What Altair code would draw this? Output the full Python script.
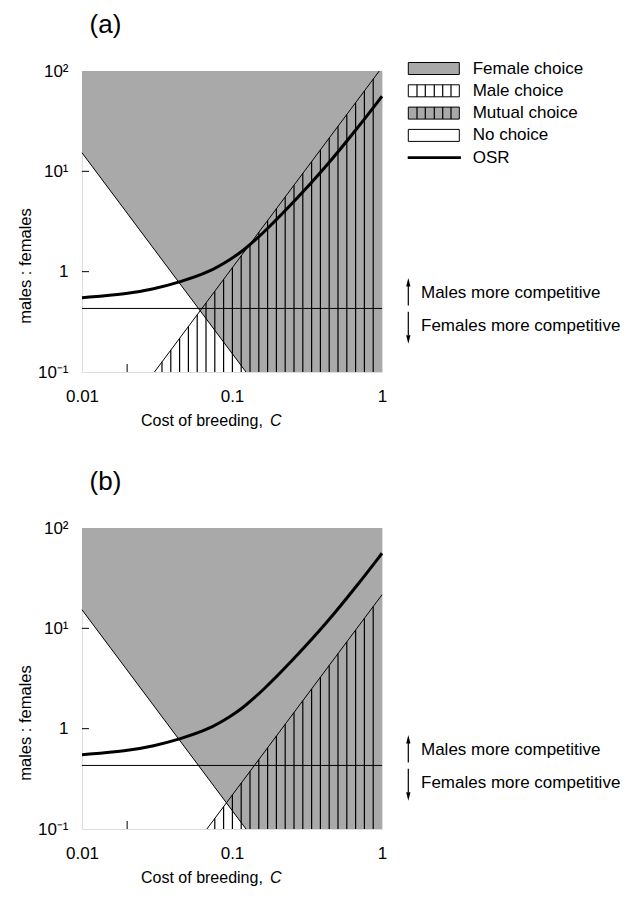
import altair as alt
import numpy as np
import pandas as pd

FONT = "Liberation Sans"
GRAY = "#a9a9a9"

# ---------------- values ----------------
osr_cost = [0.01, 0.02, 0.03, 0.045, 0.07, 0.10, 0.115, 0.16, 0.25, 0.42, 0.70, 1.00]
osr_ratio = [0.55, 0.60, 0.67, 0.79, 0.98, 1.36, 1.56, 2.38, 4.7, 10.9, 28.0, 56.0]

# boundary below which females do not choose (same in both panels)
female_bound_cost = [0.01, 0.124]
female_bound_ratio = [15.3, 0.1]

# boundary right of which males choose
male_bound_cost_a = [0.0304, 0.959]
male_bound_ratio_a = [0.1, 100.0]
male_bound_cost_b = [0.068, 1.0]
male_bound_ratio_b = [0.1, 21.6]

competition_threshold = 0.43

x_tick_values = [0.01, 0.1, 1]
x_tick_labels = ["0.01", "0.1", "1"]
y_tick_values = [0.1, 1, 10, 100]
y_tick_labels = ["10\u207b\u00b9", "1", "10\u00b9", "10\u00b2"]
inner_y_ticks = [1, 10]
inner_x_ticks = [0.02]

legend_labels = ["Female choice", "Male choice", "Mutual choice", "No choice", "OSR"]

# ---------------- layout ----------------
W, H = 300, 301
X_MIN, X_MAX = 0.01, 1.0
Y_MIN, Y_MAX = 0.1, 100.0

xs = alt.Scale(type="log", domain=[X_MIN, X_MAX], nice=False)
ys = alt.Scale(type="log", domain=[Y_MIN, Y_MAX], nice=False)


def label_expr(vals, labs):
    parts = [f"abs(datum.value - {v}) < {v}*1e-6 ? '{l}'" for v, l in zip(vals, labs)]
    return " : ".join(parts) + " : ''"


common_axis = dict(ticks=False, tickSize=0, domain=False, grid=False, labelFontSize=17,
                   labelFont=FONT, labelColor="black", labelFlush=False,
                   labelOverlap=False, title=None)
xaxis = alt.Axis(values=x_tick_values, labelExpr=label_expr(x_tick_values, x_tick_labels),
                 labelPadding=16, **common_axis)
yaxis = alt.Axis(values=y_tick_values, labelExpr=label_expr(y_tick_values, y_tick_labels),
                 labelPadding=14, **common_axis)


def X(f):
    return alt.X(f, type="quantitative", scale=xs, axis=xaxis)


def Y(f):
    return alt.Y(f, type="quantitative", scale=ys, axis=yaxis)


def txt(s, x, y, size=17, align="left", angle=0, style="normal"):
    return alt.Chart(pd.DataFrame({"t": [s]})).mark_text(
        align=align, baseline="middle", fontSize=size, font=FONT, color="black",
        angle=angle, fontStyle=style
    ).encode(text="t:N", x=alt.value(x), y=alt.value(y))


# hatch texture: evenly spaced vertical strokes in screen space (log axis)
hatch_cost = 10 ** np.arange(-1.4667, 0.0, 0.05867)

UP = "M0,-1L0.5,1L-0.5,1Z"
DOWN = "M0,1L0.5,-1L-0.5,-1Z"


def panel(tag, mb_cost, mb_ratio, with_legend):
    lmc, lmr = np.log10(mb_cost), np.log10(mb_ratio)
    hc = hatch_cost[hatch_cost > mb_cost[0]]
    top = 10 ** np.interp(np.log10(hc), lmc, lmr)
    top = np.minimum(top, Y_MAX)
    hatch_df = pd.DataFrame({"cost": hc, "lo": Y_MIN, "hi": top})

    area_df = pd.DataFrame({
        "cost": female_bound_cost + [X_MAX],
        "lo": female_bound_ratio + [Y_MIN],
        "hi": [Y_MAX] * 3,
    })
    fb_df = pd.DataFrame({"cost": female_bound_cost, "ratio": female_bound_ratio})
    mb_df = pd.DataFrame({"cost": mb_cost, "ratio": mb_ratio})
    thr_df = pd.DataFrame({"cost": [X_MIN, X_MAX], "ratio": [competition_threshold] * 2})
    osr_df = pd.DataFrame({"cost": osr_cost, "ratio": osr_ratio})
    one_thr = pd.DataFrame({"ratio": [competition_threshold]})

    layers = [
        alt.Chart(area_df).mark_area(color=GRAY, opacity=1).encode(
            x=X("cost"), y=Y("lo"), y2="hi"),
        alt.Chart(hatch_df).mark_rule(color="black", strokeWidth=1.2).encode(
            x=X("cost"), y=Y("lo"), y2="hi"),
        alt.Chart(fb_df).mark_line(color="black", strokeWidth=1).encode(
            x=X("cost"), y=Y("ratio")),
        alt.Chart(mb_df).mark_line(color="black", strokeWidth=1).encode(
            x=X("cost"), y=Y("ratio")),
        alt.Chart(thr_df).mark_line(color="black", strokeWidth=1).encode(
            x=X("cost"), y=Y("ratio")),
        alt.Chart(osr_df).mark_line(color="black", strokeWidth=3, interpolate="basis").encode(
            x=X("cost"), y=Y("ratio")),
        alt.Chart(pd.DataFrame({"ratio": inner_y_ticks})).mark_rule(color="black", strokeWidth=1).encode(
            y=Y("ratio"), x=alt.value(0), x2=alt.value(7)),
        alt.Chart(pd.DataFrame({"cost": inner_x_ticks})).mark_rule(color="black", strokeWidth=1).encode(
            x=X("cost"), y=alt.value(H), y2=alt.value(H - 8)),
        # arrows + competition annotation
        alt.Chart(one_thr).mark_rule(color="black", strokeWidth=1.2, yOffset=-3, y2Offset=-23).encode(
            x=alt.value(326.3), y=Y("ratio"), y2="ratio"),
        alt.Chart(one_thr).mark_point(shape=UP, filled=True, size=72, color="black", opacity=1,
                                      yOffset=-26.3).encode(x=alt.value(326.3), y=Y("ratio")),
        alt.Chart(one_thr).mark_rule(color="black", strokeWidth=1.2, yOffset=3.4, y2Offset=27).encode(
            x=alt.value(326.3), y=Y("ratio"), y2="ratio"),
        alt.Chart(one_thr).mark_point(shape=DOWN, filled=True, size=72, color="black", opacity=1,
                                      yOffset=31).encode(x=alt.value(326.3), y=Y("ratio")),
        alt.Chart(one_thr).mark_text(align="left", baseline="middle", dy=-15, fontSize=17,
                                     font=FONT, color="black").encode(
            x=alt.value(339), y=Y("ratio"), text=alt.value("Males more competitive")),
        alt.Chart(one_thr).mark_text(align="left", baseline="middle", dy=17.7, fontSize=17,
                                     font=FONT, color="black").encode(
            x=alt.value(339), y=Y("ratio"), text=alt.value("Females more competitive")),
        # texts
        txt(tag, 23.5, -46, size=26, align="center"),
        txt("males : females", -56, 195, size=16.5, align="center", angle=270),
        txt("Cost of breeding,", 59, 350, size=16),
        txt("C", 188, 350, size=16, style="italic"),
    ]

    if with_legend:
        y0, step = -2.5, 22.3
        bx0, bx1 = 326.3, 377.3
        inner = [335, 343.3, 352.3, 360.7, 369]
        fills = [GRAY, "white", GRAY, "white"]
        hatched = [False, True, True, False]
        one = pd.DataFrame({"k": [0]})
        for i, lab in enumerate(legend_labels):
            yc = y0 + step * i
            if i < 4:
                layers.append(alt.Chart(one).mark_rect(fill=fills[i], stroke="black", strokeWidth=1).encode(
                    x=alt.value(bx0), x2=alt.value(bx1), y=alt.value(yc - 6), y2=alt.value(yc + 6)))
                if hatched[i]:
                    for xx in inner:
                        layers.append(alt.Chart(one).mark_rule(color="black", strokeWidth=1.2).encode(
                            x=alt.value(xx), y=alt.value(yc - 6), y2=alt.value(yc + 6)))
            else:
                layers.append(alt.Chart(one).mark_rule(color="black", strokeWidth=2.7).encode(
                    x=alt.value(bx0 - 0.6), x2=alt.value(bx1 + 1.6), y=alt.value(yc)))
            layers.append(txt(lab, 390.7, yc, size=17))

    return alt.layer(*layers).properties(width=W, height=H)


pa = panel("(a)", male_bound_cost_a, male_bound_ratio_a, True)
pb = panel("(b)", male_bound_cost_b, male_bound_ratio_b, False)

chart = alt.vconcat(pa, pb, spacing=156, bounds="flush").configure_view(
    stroke="black", strokeWidth=1.3
).configure(font=FONT).properties(
    padding={"left": 9, "top": 3, "right": 2, "bottom": 5}
)

chart.save("out.html", embed_options={"renderer": "svg", "actions": False})
